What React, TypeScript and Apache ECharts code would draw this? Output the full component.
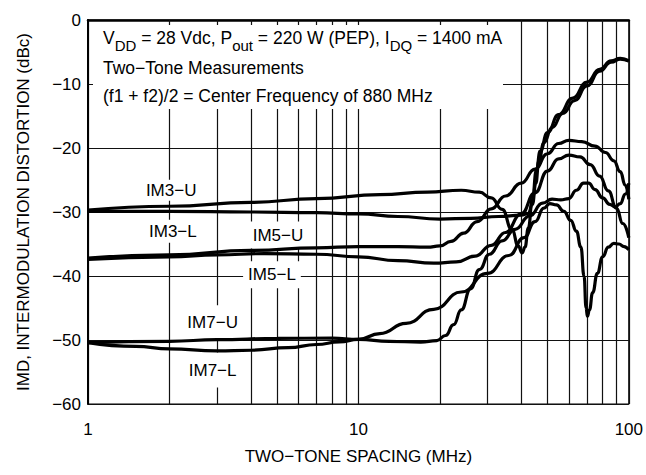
import React, { useEffect, useRef } from 'react';
import * as echarts from 'echarts';

// Axis definitions
const xMin = 1;
const xMax = 100;
const minorGridX = [2, 3, 4, 5, 6, 7, 8, 9, 20, 30, 40, 50, 60, 70, 80, 90];
const yMin = -60;
const yMax = 0;
const yStep = 10;

// Curves: [two-tone spacing MHz, IMD dBc]
const im3U: [number, number][] = [
  [1, -29.7], [2, -29.1], [4, -28.5], [7, -27.9], [12, -27.3], [18, -26.9], [24, -26.6],
  [28, -26.9], [31, -27.8], [34, -29.6], [37, -32.8], [39, -35.3], [40.3, -36.4], [41.3, -35.5],
  [42.5, -32.5], [44, -28.0], [45.5, -23.5], [47, -20.5], [50, -17.6], [55, -14.8], [62, -12.2],
  [70, -9.7], [78, -7.7], [86, -6.4], [93, -6.0], [100, -6.4],
];
const im3L: [number, number][] = [
  [1, -29.9], [2, -29.9], [4, -30.0], [7, -30.1], [10, -30.3], [14, -30.7], [20, -31.1],
  [26, -31.0], [33, -30.7], [40, -30.5], [42.5, -30.2], [44, -28.8], [45.3, -25.5], [46.5, -22.0],
  [48.5, -19.2], [52, -16.8], [57, -14.6], [63, -12.6], [70, -10.3], [78, -8.0], [86, -6.6],
  [93, -6.1], [100, -6.4],
];
const im5U: [number, number][] = [
  [1, -37.2], [2, -36.7], [4, -36.0], [7, -35.6], [10, -35.4], [14, -35.4], [18, -35.5],
  [20, -35.3], [22, -34.6], [24.5, -33.3], [27.5, -31.5], [31, -29.5], [35, -27.5], [40, -25.5],
  [45, -23.3], [50, -20.9], [55, -19.3], [60, -18.8], [67, -19.0], [75, -19.7], [82, -20.7],
  [88, -22.0], [93, -23.7], [97, -25.8], [100, -28.0],
];
const im5L: [number, number][] = [
  [1, -37.4], [2, -37.0], [3, -36.7], [4.5, -36.5], [7, -36.6], [10, -37.0], [14, -37.6],
  [19, -38.0], [23, -37.8], [27, -36.9], [31, -35.2], [35, -33.2], [40, -30.3], [45, -27.0],
  [50, -23.6], [55, -21.7], [60, -21.1], [66, -21.4], [72, -22.6], [78, -24.4], [84, -26.7],
  [90, -29.4], [95, -31.8], [100, -34.0],
];
const im7U: [number, number][] = [
  [1, -50.4], [2, -50.2], [3, -49.95], [5, -49.75], [8, -49.7], [10, -49.9], [13, -50.2],
  [17, -50.35], [19.5, -50.1], [21, -49.3], [22.5, -47.6], [24, -45.3], [26, -42.0], [28, -39.0],
  [30.5, -36.6], [34, -34.5], [38, -32.7], [43, -30.6], [48, -28.6], [52, -28.0], [56, -28.1],
  [60, -27.9], [64, -26.6], [68, -25.5], [71, -25.5], [75, -26.5], [80, -27.8], [85, -28.8],
  [89, -29.2], [93, -28.7], [97, -27.2], [100, -25.5],
];
const im7L: [number, number][] = [
  [1, -50.4], [1.5, -51.0], [2, -51.4], [3, -51.7], [4, -51.6], [5.5, -51.2], [7, -50.7],
  [8.5, -50.3], [10, -49.9], [12, -49.0], [15, -47.4], [19, -45.2], [24, -42.5], [30, -39.6],
  [36, -36.8], [41, -34.0], [45, -31.5], [48.5, -29.4], [51, -28.7], [54, -28.9], [57.5, -29.9],
  [61, -31.3], [64, -33.0], [66.5, -35.5], [68.3, -40.0], [69.5, -45.0], [70.3, -46.3],
  [71.5, -45.3], [73.5, -42.6], [76.5, -39.6], [80, -37.0], [84, -35.5], [88, -34.9], [92, -35.0],
  [96, -35.4], [100, -35.9],
];

const curves = [
  { name: 'IM3−U', data: im3U },
  { name: 'IM3−L', data: im3L },
  { name: 'IM5−U', data: im5U },
  { name: 'IM5−L', data: im5L },
  { name: 'IM7−U', data: im7U },
  { name: 'IM7−L', data: im7L },
];

// Curve label anchors in data coordinates [MHz, dBc]
const curveLabels: { text: string; at: [number, number]; pad: number[] }[] = [
  { text: 'IM3−U', at: [2.03, -26.6], pad: [2, 4] },
  { text: 'IM3−L', at: [2.06, -33.0], pad: [3, 4] },
  { text: 'IM5−U', at: [5.04, -33.6], pad: [5, 5] },
  { text: 'IM5−L', at: [4.79, -39.8], pad: [5, 5] },
  { text: 'IM7−U', at: [2.89, -47.3], pad: [9, 5] },
  { text: 'IM7−L', at: [2.89, -54.7], pad: [9, 5] },
];

const FONT = "'Liberation Sans', Arial, Helvetica, sans-serif";

export default function App() {
  const ref = useRef<HTMLDivElement>(null);
  useEffect(() => {
    if (!ref.current) return;
    const chart = echarts.init(ref.current, null, { renderer: 'svg' });
    const gridSeries = {
      type: 'line',
      data: [],
      silent: true,
      z: 1,
      markLine: {
        silent: true,
        symbol: ['none', 'none'],
        label: { show: false },
        lineStyle: { color: '#111', width: 1.2, type: 'solid' },
        emphasis: { disabled: true },
        data: minorGridX.map((v) => ({ xAxis: v })),
      },
    };
    const curveSeries = curves.map((c) => ({
      type: 'line',
      name: c.name,
      data: c.data,
      smooth: 0.5,
      smoothMonotone: 'x',
      showSymbol: false,
      symbol: 'none',
      silent: true,
      z: 20,
      lineStyle: { color: '#000', width: 3.2 },
    }));
    chart.setOption({
      animation: false,
      backgroundColor: '#fff',
      grid: { left: 88, right: 11, top: 20, bottom: 71, show: true, borderColor: '#000', borderWidth: 1.2 },
      xAxis: {
        type: 'log',
        logBase: 10,
        min: xMin,
        max: xMax,
        name: 'TWO−TONE SPACING (MHz)',
        nameLocation: 'middle',
        nameGap: 44,
        nameTextStyle: { color: '#000', fontSize: 17, fontFamily: FONT },
        axisLine: { show: true, lineStyle: { color: '#000', width: 2.5 } },
        axisTick: { show: false },
        axisLabel: { color: '#000', fontSize: 17, fontFamily: FONT, margin: 17 },
        splitLine: { show: true, lineStyle: { color: '#111', width: 1.2 } },
      },
      yAxis: {
        type: 'value',
        min: yMin,
        max: yMax,
        interval: yStep,
        name: 'IMD, INTERMODULATION DISTORTION (dBc)',
        nameLocation: 'middle',
        nameGap: 56,
        nameTextStyle: { color: '#000', fontSize: 17, fontFamily: FONT },
        axisLine: { show: true, lineStyle: { color: '#000', width: 2 } },
        axisTick: { show: false },
        axisLabel: {
          color: '#000',
          fontSize: 17,
          fontFamily: FONT,
          margin: 7,
          formatter: (v: number) => (v === 0 ? '0' : '−' + Math.abs(v)),
        },
        splitLine: { show: true, lineStyle: { color: '#111', width: 1.2 } },
      },
      series: [gridSeries, ...curveSeries],
    });

    const labelGraphics = curveLabels.map((l) => {
      const p = chart.convertToPixel({ gridIndex: 0 }, l.at) as number[];
      return {
        type: 'text',
        x: p[0],
        y: p[1],
        z: 10,
        silent: true,
        style: {
          text: l.text,
          fill: '#000',
          fontSize: 17,
          fontFamily: FONT,
          align: 'center',
          verticalAlign: 'middle',
          backgroundColor: '#fff',
          padding: l.pad,
        },
      };
    });

    chart.setOption({
      graphic: [
        {
          type: 'rect',
          z: 10,
          silent: true,
          shape: { x: 93, y: 25, width: 410, height: 84 },
          style: { fill: '#fff' },
        },
        {
          type: 'text',
          z: 11,
          silent: true,
          x: 103,
          y: 38,
          style: {
            text: '{m|V}{s|DD}{m| = 28 Vdc, P}{s|out}{m| = 220 W (PEP), I}{s|DQ}{m| = 1400 mA}',
            align: 'left',
            verticalAlign: 'middle',
            fill: '#000',
            rich: {
              m: { fontSize: 17.5, lineHeight: 30, fontFamily: FONT, fill: '#000' },
              s: { fontSize: 15, lineHeight: 15, padding: [15, 0, 0, 0], fontFamily: FONT, fill: '#000' },
            },
          },
        },
        {
          type: 'text',
          z: 11,
          silent: true,
          x: 103,
          y: 68,
          style: { text: 'Two−Tone Measurements', fill: '#000', fontSize: 17.5, fontFamily: FONT, align: 'left', verticalAlign: 'middle' },
        },
        {
          type: 'text',
          z: 11,
          silent: true,
          x: 103,
          y: 96,
          style: { text: '(f1 + f2)/2 = Center Frequency of 880 MHz', fill: '#000', fontSize: 17.5, fontFamily: FONT, align: 'left', verticalAlign: 'middle' },
        },
        ...labelGraphics,
      ],
    });
    return () => chart.dispose();
  }, []);
  return (
    <div
      ref={ref}
      style={{ position: 'absolute', left: 0, top: 0, width: 646, height: 475, background: '#fff' }}
    />
  );
}
